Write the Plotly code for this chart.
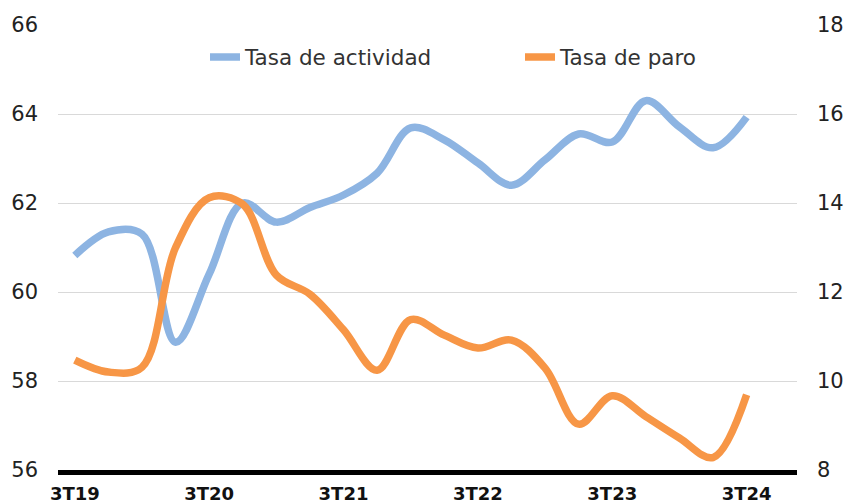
import plotly.graph_objects as go

quarters = ["3T19", "4T19", "1T20", "2T20", "3T20", "4T20", "1T21", "2T21", "3T21", "4T21",
            "1T22", "2T22", "3T22", "4T22", "1T23", "2T23", "3T23", "4T23", "1T24", "2T24", "3T24"]
tasa_actividad = [60.82, 61.35, 61.3, 58.87, 60.4, 62.0, 61.57, 61.9, 62.18, 62.67,
                  63.69, 63.42, 62.9, 62.4, 62.97, 63.55, 63.37, 64.3, 63.71, 63.24, 63.93]
tasa_paro = [10.47, 10.2, 10.31, 13.0, 14.12, 13.97, 12.38, 11.95, 11.15, 10.24,
             11.38, 11.03, 10.74, 10.92, 10.29, 9.03, 9.67, 9.2, 8.72, 8.28, 9.69]
tick_labels = ["3T19", "3T20", "3T21", "3T22", "3T23", "3T24"]
left_ticks = [56, 58, 60, 62, 64, 66]
right_ticks = [8, 10, 12, 14, 16, 18]

BLUE = "#8DB4E2"
ORANGE = "#F79646"
FONT = "DejaVu Sans"

fig = go.Figure()
fig.add_trace(go.Scatter(x=quarters, y=tasa_actividad, name="Tasa de actividad", mode="lines",
                         line=dict(color=BLUE, width=7.5, shape="spline", smoothing=1.0), yaxis="y"))
fig.add_trace(go.Scatter(x=quarters, y=tasa_paro, name="Tasa de paro", mode="lines",
                         line=dict(color=ORANGE, width=7.5, shape="spline", smoothing=1.0), yaxis="y2"))

fig.update_layout(
    width=849, height=503,
    margin=dict(l=58, r=52, t=25, b=33, autoexpand=False),
    paper_bgcolor="white", plot_bgcolor="white",
    font=dict(family=FONT, color="#222222"),
    showlegend=True,
    legend=dict(orientation="h", x=(210 - 58 - 5) / 739, xanchor="left", y=0.928, yanchor="middle",
                font=dict(size=21.5, color="#333333"), bgcolor="rgba(0,0,0,0)",
                entrywidth=270, entrywidthmode="pixels", tracegroupgap=0),
    xaxis=dict(type="category", categoryorder="array", categoryarray=quarters,
               range=[-0.5, 21.5], tickmode="array", tickvals=tick_labels, ticktext=tick_labels,
               showgrid=False, showline=True, linecolor="black", linewidth=5,
               ticks="", tickfont=dict(size=18, family=FONT, color="#111111", weight="bold"),
               ticklabelstandoff=3, zeroline=False, automargin=False),
    yaxis=dict(range=[56, 66], tickvals=left_ticks, showgrid=True, gridcolor="#D9D9D9", gridwidth=1,
               zeroline=False, showline=False, ticks="", tickfont=dict(size=21, color="#222222"),
               ticklabelstandoff=19, automargin=False),
    yaxis2=dict(range=[8, 18], tickvals=right_ticks, overlaying="y", side="right", showgrid=False,
                zeroline=False, showline=False, ticks="", tickfont=dict(size=21, color="#222222"),
                ticklabelstandoff=19, automargin=False),
)

fig.write_html("out.html", config={"displayModeBar": False},
               post_script="document.body.style.margin='0';document.body.style.padding='0';")
